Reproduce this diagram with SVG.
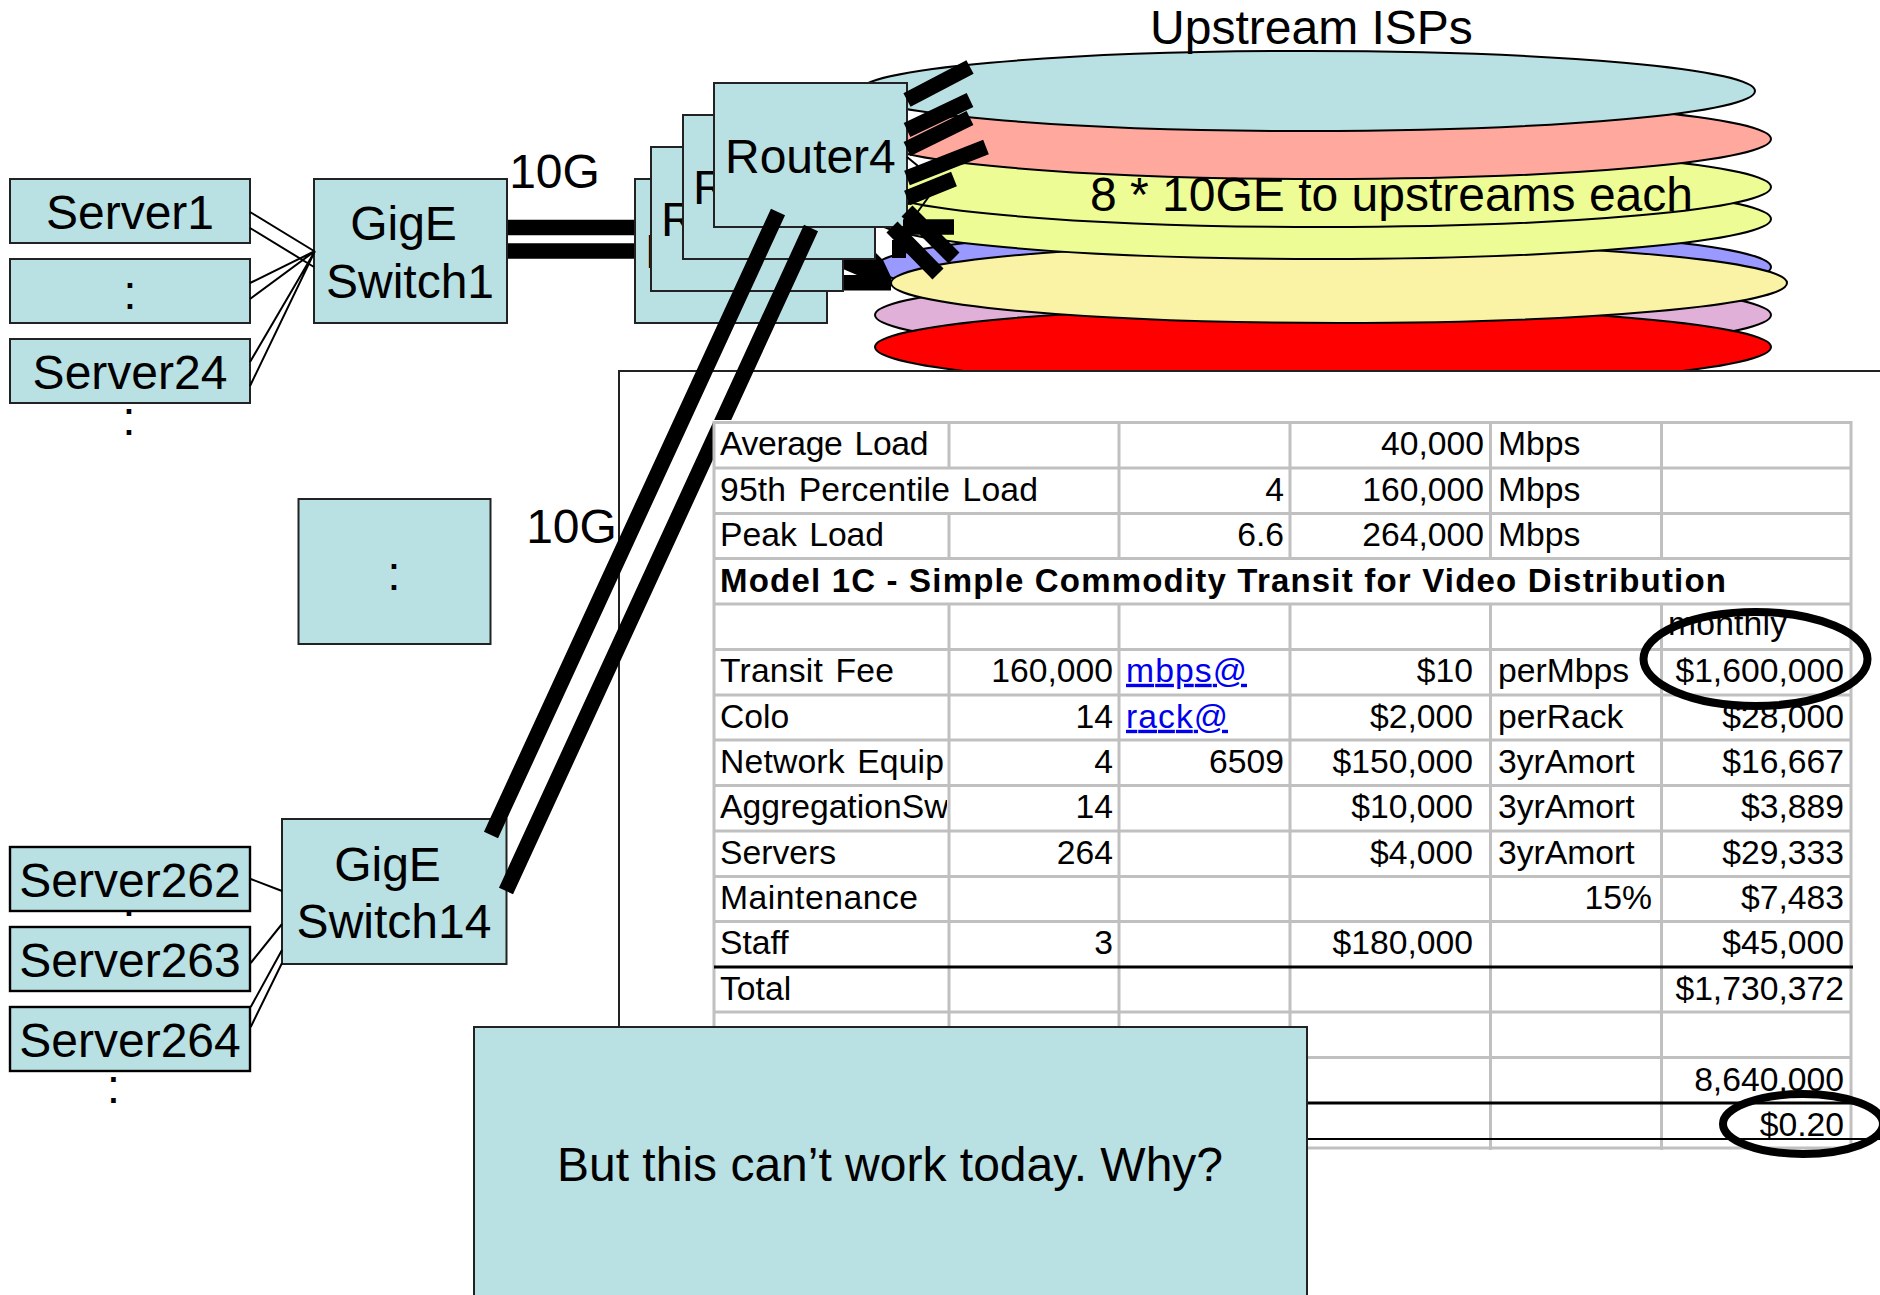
<svg xmlns="http://www.w3.org/2000/svg" width="1880" height="1295" viewBox="0 0 1880 1295">
<style>
text{font-family:"Liberation Sans",Arial,sans-serif;fill:#000}
.n{fill:#b9e0e3;stroke:#222;stroke-width:2}
.nb{fill:#b9e0e3;stroke:#000;stroke-width:2.4}
.t{font-size:48px;text-anchor:middle}
.s{font-size:48px}
.e{stroke:#000;stroke-width:2}
.thin{stroke:#000;stroke-width:2;fill:none}
.thick{stroke:#000;stroke-width:15.5;fill:none}
.g{stroke:#c0c0c0;stroke-width:3;fill:none}
.k{stroke:#000;stroke-width:3;fill:none}
.c{font-size:33.7px;word-spacing:3px}
.b{font-size:33px;font-weight:bold}
.r{font-size:33.7px;text-anchor:end}
.l{font-size:33.7px;fill:#0000ee;text-decoration:underline}
</style>
<defs><clipPath id="cellclip"><rect x="714" y="787" width="233" height="43"/></clipPath>
<clipPath id="monthclip"><rect x="1663" y="606" width="187" height="42"/></clipPath></defs>
<rect width="1880" height="1295" fill="#fff"/>

<g id="isp-stack">
<ellipse class="e" cx="1323" cy="315" rx="448" ry="40" fill="#e0b0d8"/>
<ellipse class="e" cx="1323" cy="347" rx="448" ry="40" fill="#ff0000"/>
<ellipse class="e" cx="1323" cy="267" rx="448" ry="40" fill="#9999ff"/>
<ellipse class="e" cx="1339" cy="283" rx="448" ry="40" fill="#faf3a5"/>
<ellipse class="e" cx="1323" cy="219" rx="448" ry="40" fill="#eefc96"/>
<ellipse class="e" cx="1323" cy="187" rx="448" ry="40" fill="#eefc96"/>
<ellipse class="e" cx="1323" cy="139" rx="448" ry="40" fill="#ffa99e"/>
<ellipse class="e" cx="1307" cy="91" rx="448" ry="40" fill="#b9e0e3"/>
</g>
<text id="upstream-label" class="t" x="1311.500" y="44">Upstream ISPs</text>
<text id="uplink-label" class="t" x="1391.500" y="211">8 * 10GE to upstreams each</text>

<rect id="panel" x="619" y="371" width="1400" height="768" fill="#fff" stroke="#222" stroke-width="2"/>

<g id="connectors-under">
<path class="thick" d="M507 227.500H635M507 251H635"/>
<path fill="#000" d="M843 255L875 252L883 260L891 277V290.500H843V275H857L843 269Z"/>
<path fill="#000" d="M892 240H906V258H892Z"/>
</g>

<g id="router1"><rect class="n" x="635" y="179" width="192" height="144"/><text class="s" x="645" y="268">R</text></g>
<g id="router2"><rect class="n" x="651" y="147" width="192" height="144"/><text class="s" x="661" y="236">R</text></g>
<g id="router3"><rect class="n" x="683" y="115" width="192" height="144"/><text class="s" x="693" y="204">R</text></g>
<g id="router4"><rect class="n" x="714" y="83" width="193" height="144"/><text class="s" x="725" y="173">Router4</text></g>

<g id="server-dots">
<text class="t" x="129" y="435">:</text>
<text class="t" x="129" y="937">:</text>
<text class="t" x="113.500" y="1103">:</text>
</g>
<g id="server1"><rect class="n" x="10" y="179" width="240" height="64"/><text class="t" x="130" y="229">Server1</text></g>
<g id="server-mid"><rect class="n" x="10" y="259" width="240" height="64"/><text class="t" x="130" y="309">:</text></g>
<g id="server24"><rect class="n" x="10" y="339" width="240" height="64"/><text class="t" x="130" y="389">Server24</text></g>
<g id="switch1"><rect class="n" x="314" y="179" width="193" height="144"/><text class="t" x="403.500" y="240">GigE</text><text class="t" x="410" y="298">Switch1</text></g>
<text id="label-10g-a" class="t" x="554.500" y="188">10G</text>
<g id="switch-mid"><rect class="n" x="298.500" y="499" width="192" height="145"/><text class="t" x="394" y="590">:</text></g>
<text id="label-10g-b" class="t" x="571.500" y="543">10G</text>
<g id="server262"><rect class="nb" x="10" y="847" width="240" height="64"/><text class="t" x="130" y="897">Server262</text></g>
<g id="server263"><rect class="nb" x="10" y="927" width="240" height="64"/><text class="t" x="130" y="977">Server263</text></g>
<g id="server264"><rect class="nb" x="10" y="1007" width="240" height="64"/><text class="t" x="130" y="1057">Server264</text></g>
<g id="switch14"><rect class="n" x="282" y="819" width="224.500" height="145"/><text class="t" x="387.500" y="881">GigE</text><text class="t" x="394" y="938">Switch14</text></g>

<g id="connectors">
<g class="thin">
<path d="M250 212L314 251M250 228L314 267M250 283L315 251M250 299L315 251M250 362L315 251M250 386L315 251"/>
<path d="M250.700 879L282 891M250.700 963L282 924M250.700 1007L282 950M250.700 1027L282 963"/>
<path d="M930 195L908 225M907 157L918 166"/>
</g>
<g class="thick">
<path d="M778 212L491 835M811 228L506 891"/>
<path d="M907 100L970 67M907 130L970 100M907 149L970 118M907 178L986 147M907 198L954 179M903 227H954M907 211L954 258M892 227L938 274"/>
</g>
</g>

<g id="table">
<rect x="713" y="420" width="1140" height="730" fill="#fff"/>
<g class="g">
<path d="M714 422.500H1851M714 468H1851M714 513.500H1851M714 558.500H1851M714 604H1851M714 649.500H1851M714 695H1851M714 740H1851M714 785.500H1851M714 831H1851M714 876.500H1851M714 921.500H1851M714 1012H1851M714 1057.500H1851M714 1148H1851"/>
<path d="M714 421V1150M1851 421V1150"/>
<path d="M949 421V468M949 513V558M949 604V1150"/>
<path d="M1119 421V558M1119 604V1150"/>
<path d="M1290 421V558M1290 604V1150"/>
<path d="M1490.500 421V558M1490.500 604V1150"/>
<path d="M1661.500 421V558M1661.500 604V1150"/>
</g>
<path class="k" d="M714 967H1853M714 1103H1853"/>
<g transform="translate(0,0.8)">
<text class="c" x="720" y="454" textLength="208.500">Average Load</text>
<text class="r" x="1484" y="454">40,000</text><text class="c" x="1498" y="454">Mbps</text>
<text class="c" x="720" y="500" textLength="318">95th Percentile Load</text>
<text class="r" x="1284" y="500">4</text><text class="r" x="1484" y="500">160,000</text><text class="c" x="1498" y="500">Mbps</text>
<text class="c" x="720" y="545">Peak Load</text>
<text class="r" x="1284" y="545">6.6</text><text class="r" x="1484" y="545">264,000</text><text class="c" x="1498" y="545">Mbps</text>
<text class="b" x="720" y="591.500" textLength="1006">Model 1C - Simple Commodity Transit for Video Distribution</text>
<text class="c" x="1668" y="634.500" clip-path="url(#monthclip)" textLength="119">monthly</text>
<text class="c" x="720" y="681" textLength="174">Transit Fee</text><text class="r" x="1113" y="681">160,000</text><text class="l" x="1126" y="681" textLength="121">mbps@</text><text class="r" x="1473" y="681">$10</text><text class="c" x="1498" y="681">perMbps</text><text class="r" x="1844" y="681">$1,600,000</text>
<text class="c" x="720" y="727">Colo</text><text class="r" x="1113" y="727">14</text><text class="l" x="1126" y="727" textLength="102">rack@</text><text class="r" x="1473" y="727">$2,000</text><text class="c" x="1498" y="727">perRack</text><text class="r" x="1844" y="727">$28,000</text>
<text class="c" x="720" y="772" textLength="224">Network Equip</text><text class="r" x="1113" y="772">4</text><text class="r" x="1284" y="772">6509</text><text class="r" x="1473" y="772">$150,000</text><text class="c" x="1498" y="772">3yrAmort</text><text class="r" x="1844" y="772">$16,667</text>
<text class="c" x="720" y="817.500" clip-path="url(#cellclip)">AggregationSw</text><text class="r" x="1113" y="817.500">14</text><text class="r" x="1473" y="817.500">$10,000</text><text class="c" x="1498" y="817.500">3yrAmort</text><text class="r" x="1844" y="817.500">$3,889</text>
<text class="c" x="720" y="863">Servers</text><text class="r" x="1113" y="863">264</text><text class="r" x="1473" y="863">$4,000</text><text class="c" x="1498" y="863">3yrAmort</text><text class="r" x="1844" y="863">$29,333</text>
<text class="c" x="720" y="908" textLength="198">Maintenance</text><text class="r" x="1652" y="908">15%</text><text class="r" x="1844" y="908">$7,483</text>
<text class="c" x="720" y="953">Staff</text><text class="r" x="1113" y="953">3</text><text class="r" x="1473" y="953">$180,000</text><text class="r" x="1844" y="953">$45,000</text>
<text class="c" x="720" y="999">Total</text><text class="r" x="1844" y="999">$1,730,372</text>
<text class="r" x="1844" y="1090">8,640,000</text>
<text class="r" x="1844" y="1135">$0.20</text>
</g>
<path d="M1306 1139H1880" stroke="#000" stroke-width="2" fill="none"/>
</g>
<g id="highlights" fill="none" stroke="#000" stroke-width="8">
<ellipse cx="1755.500" cy="659" rx="112" ry="47"/>
<ellipse cx="1803" cy="1124" rx="80" ry="30"/>
</g>

<g id="callout"><rect class="n" x="474" y="1027" width="833" height="300"/><text class="t" x="890" y="1181">But this can’t work today. Why?</text></g>
</svg>
